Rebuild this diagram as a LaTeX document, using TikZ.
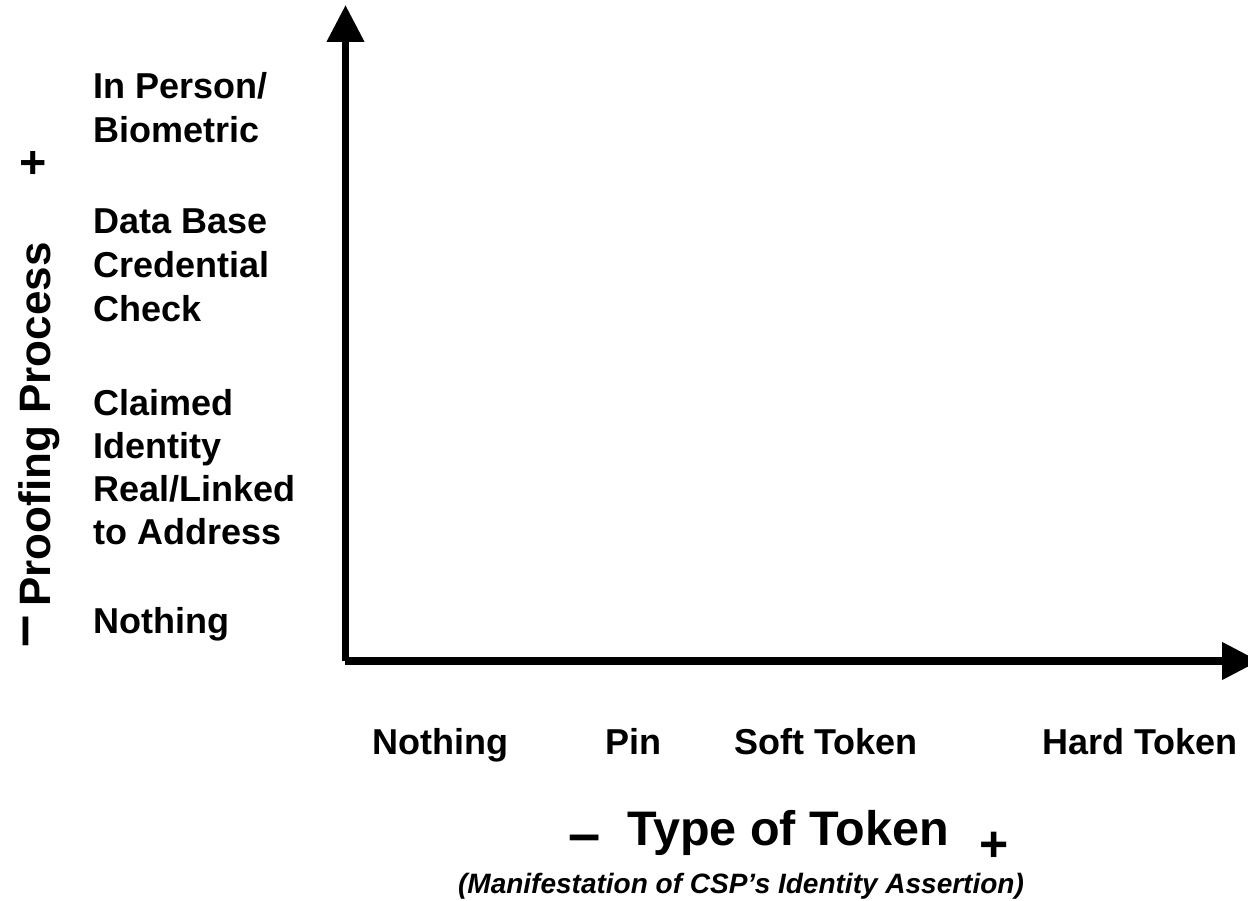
\documentclass[tikz,border=0pt]{standalone}
\usepackage{fontspec}
\setmainfont{Liberation Sans}
\usetikzlibrary{arrows.meta}
\begin{document}
\begin{tikzpicture}[x=1pt,y=-1pt,
  lbl/.style={anchor=base west,inner sep=0pt,font=\bfseries\fontsize{36}{44}\selectfont},
  title/.style={inner sep=0pt,font=\bfseries\fontsize{48.5}{52}\selectfont},
  sub/.style={inner sep=0pt,font=\bfseries\itshape\fontsize{28}{32}\selectfont},
  axis/.style={line width=7.5pt},
  tip/.style={-{Triangle[width=36pt,length=37pt]}}]
\clip (0,0) rectangle (1248,901);
\coordinate (O) at (345.5,661);
\coordinate (Ytip) at (345.5,5);
\coordinate (Xstart) at (345,661);
\coordinate (Xtip) at (1259,661);
\draw[axis,tip] (O) -- (Ytip);
\draw[axis,tip] (Xstart) -- (Xtip);
% left labels
\node[lbl] (ip1) at (93,99) {In Person/};
\node[lbl] (ip2) at (93,143) {Biometric};
\node[lbl] (db1) at (93,234) {Data Base};
\node[lbl] (db2) at (93,278) {Credential};
\node[lbl] (db3) at (93,322) {Check};
\node[lbl] (ci1) at (93,415) {Claimed};
\node[lbl] (ci2) at (93,458) {Identity};
\node[lbl] (ci3) at (93,501) {Real/Linked};
\node[lbl] (ci4) at (93,544) {to Address};
\node[lbl] (ynot) at (93,633) {Nothing};
% bottom labels
\node[lbl] (xnot) at (372,754) {Nothing};
\node[lbl] (xpin) at (605,754) {Pin};
\node[lbl] (xsoft) at (734,754) {Soft Token};
\node[lbl] (xhard) at (1042,754) {Hard Token};
% x axis title
\node[title,font=\bfseries\fontsize{58}{60}\selectfont] (xminus) at (585,844) {–};
\node[title,anchor=base west] (xtitle) at (627,845) {Type of Token};
\node[title,font=\bfseries\fontsize{50}{52}\selectfont] (xplus) at (994,847) {+};
\node[sub,anchor=base] (xsub) at (741,893) {(Manifestation of CSP’s Identity Assertion)};
% y axis title
\node[title,font=\bfseries\fontsize{44}{50}\selectfont,rotate=90,anchor=base west] (ytitle) at (50,607) {Proofing Process};
\node[title,font=\bfseries\fontsize{46}{50}\selectfont,rotate=90] (yplus) at (35,163) {+};
\node[title,font=\bfseries\fontsize{58}{60}\selectfont,rotate=90,anchor=base,text height=0.4em,text depth=0pt] (yminus) at (41,631.5) {–};
\end{tikzpicture}
\end{document}
